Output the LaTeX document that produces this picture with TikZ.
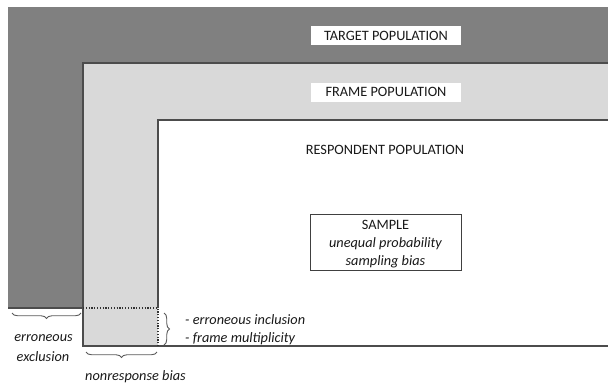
\documentclass[tikz,border=0pt]{standalone}
\usepackage{fontspec}
\setmainfont{Carlito}
\usetikzlibrary{decorations.pathreplacing}
\begin{document}
\begin{tikzpicture}[x=1pt,y=-1pt,
  edge/.style={draw=black!70,line width=1.1pt},
  dotline/.style={draw=black!80,line width=1.1pt,dash pattern=on 1.2pt off 1.6pt},
  bracedeco/.style={draw=black!65,line width=0.9pt,decorate,decoration={brace,amplitude=5.5pt}},
  lbl/.style={font=\fontsize{14.3}{17}\selectfont,text=black!90,inner sep=0pt},
  note/.style={lbl,font=\fontsize{14.3}{17}\selectfont\itshape},
  tag/.style={lbl,fill=white,minimum width=150pt,minimum height=19pt}]
\useasboundingbox (0,0) rectangle (608,383);
% nested populations
\fill[black!50] (8,7) rectangle (608,308);
\fill[black!15] (83,63) rectangle (608,346);
\fill[white] (158,120) rectangle (608,346);
\draw[edge] (8,308) -- (83,308) -- (83,63) -- (608,63);
\draw[edge] (83,308) -- (83,346) -- (608,346);
\draw[edge] (158,308) -- (158,120) -- (608,120);
\draw[dotline] (83,308) -- (158,308) -- (158,346);
% population labels
\node[tag] (target) at (386,35.5) {TARGET POPULATION};
\node[tag] (frame) at (386,92) {FRAME POPULATION};
\node[lbl] (resp) at (385,150) {RESPONDENT POPULATION};
% sample box
\node[draw=black!75,line width=1pt,fill=white,minimum width=151pt,minimum height=56pt,inner sep=0pt] (sample) at (385.5,242) {};
\node[lbl] (s1) at (385.5,225) {SAMPLE};
\node[note] (s2) at (385.5,243.5) {unequal probability};
\node[note] (s3) at (385.5,262) {sampling bias};
% braces and their labels
\coordinate (exA) at (12,313);
\coordinate (exB) at (81,313);
\coordinate (nrA) at (86,352);
\coordinate (nrB) at (157,352);
\coordinate (inA) at (164,313);
\coordinate (inB) at (164,345);
\draw[bracedeco,decoration={mirror}] (exA) -- (exB);
\draw[bracedeco,decoration={mirror}] (nrA) -- (nrB);
\draw[bracedeco] (inA) -- (inB);
\node[note] (ex1) at (43.5,338.5) {erroneous};
\node[note] (ex2) at (43,357) {exclusion};
\node[note] (nr) at (135.5,376.5) {nonresponse bias};
\node[note,anchor=west] (in1) at (185,320) {- erroneous inclusion};
\node[note,anchor=west] (in2) at (185,338.5) {- frame multiplicity};
\end{tikzpicture}
\end{document}
